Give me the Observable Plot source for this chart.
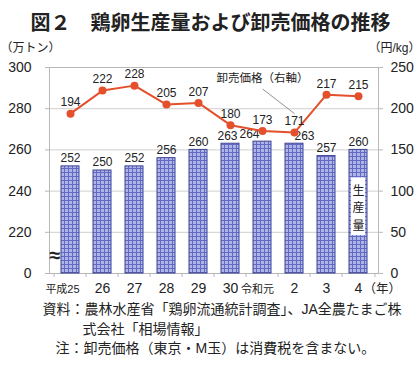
<!DOCTYPE html>
<html>
<head>
<meta charset="utf-8">
<script src="https://cdn.jsdelivr.net/npm/d3@7"></script>
<script src="https://cdn.jsdelivr.net/npm/@observablehq/plot@0.6"></script>
<style>
  html, body { margin: 0; padding: 0; background: #fff; }
  svg { display: block; }
</style>
</head>
<body>
<div id="chart"></div>
<script>
const years = ["平成25", "26", "27", "28", "29", "30", "令和元", "2", "3", "4"];
const production = [252, 250, 252, 256, 260, 263, 264, 263, 257, 260]; // 万トン (left axis)
const price = [194, 222, 228, 205, 207, 180, 173, 171, 217, 215];      // 円/kg (right axis)
const rightTicks = [0, 50, 100, 150, 200, 250];
const leftTickLabels = [0, 220, 240, 260, 280, 300];

const title = "図２　鶏卵生産量および卸売価格の推移";
const leftUnit = "（万トン）";
const rightUnit = "（円/kg）";
const yearUnit = "（年）";
const lineLabel = "卸売価格（右軸）";
const barLabel = "生\n産\n量";
const notes = [
  "資料：農林水産省「鶏卵流通統計調査」、JA全農たまご株",
  "式会社「相場情報」",
  "注：卸売価格（東京・M玉）は消費税を含まない。"
];

// broken left axis: 0 at bottom, 220..300 mapped linearly onto right-axis 50..250
const toRight = v => v === 0 ? 0 : (v - 200) * 2.5;

const data = years.map((year, i) => ({ year, prod: production[i], price: price[i] }));
const step = 32.9;

const font = "'Liberation Sans', 'Noto Sans CJK JP', sans-serif";
const ink = "#222";

const chart = Plot.plot({
  width: 420,
  height: 365,
  marginLeft: 49,
  marginRight: 42,
  marginTop: 67,
  marginBottom: 92,
  style: { fontFamily: font, fontSize: "12px", color: ink, background: "white", overflow: "visible" },
  x: { domain: years, paddingInner: 0.45, paddingOuter: 0.225, axis: null, label: null },
  y: { domain: [0, 250], axis: null, label: null },
  marks: [
    Plot.ruleY(rightTicks, { stroke: "#cfcfcf" }),
    Plot.frame({ stroke: "#b8b8b8" }),
    Plot.axisY({ anchor: "left", ticks: rightTicks, tickFormat: d => String(leftTickLabels[rightTicks.indexOf(d)]),
      tickSize: 4, tickPadding: 14, fontSize: 14, stroke: "#b8b8b8", fill: ink, label: null }),
    Plot.axisY({ anchor: "right", ticks: rightTicks, tickSize: 4, tickPadding: 8, fontSize: 14, stroke: "#b8b8b8", fill: ink, label: null }),
    Plot.ruleX(years, { x: d => d, dx: -step / 2, y1: 0, y2: 0, insetBottom: -4, stroke: "#b8b8b8" }),
    Plot.ruleX([years[years.length - 1]], { x: d => d, dx: step / 2, y1: 0, y2: 0, insetBottom: -4, stroke: "#b8b8b8" }),
    Plot.barY(data, { x: "year", y: d => toRight(d.prod), fill: "url(#eggGrid)", stroke: "#3c4290", strokeWidth: 1 }),
    Plot.text(data.filter(d => d.year !== "令和元" && d.year !== "2" && d.year !== "30"), { x: "year", y: d => toRight(d.prod), text: d => String(d.prod), dy: -8, fontSize: 12, fill: ink }),
    Plot.text(data.filter(d => d.year === "30"), { x: "year", y: d => toRight(d.prod), text: d => String(d.prod), dy: -8, dx: -3, fontSize: 12, fill: ink }),
    Plot.text(data.filter(d => d.year === "令和元"), { x: "year", y: d => toRight(d.prod), text: d => String(d.prod), dy: -8, dx: -13, fontSize: 12, fill: ink }),
    Plot.text(data.filter(d => d.year === "2"), { x: "year", y: d => toRight(d.prod), text: d => String(d.prod), dy: -8, dx: 10, fontSize: 12, fill: ink }),
    // white label box in the last bar
    Plot.barY([years[years.length - 1]], { x: d => d, y1: 46, y2: 116, fill: "white", insetLeft: 2, insetRight: 2 }),
    Plot.text([barLabel], { x: () => years[years.length - 1], y: () => 81, text: d => d, fontSize: 12, lineHeight: 1.45, fill: ink }),
    // price line
    Plot.link([{ a: "令和元", b: "2" }], { x1: "a", y1: () => 224, x2: "b", y2: () => 194, stroke: "#777", strokeWidth: 0.8 }),
    Plot.line(data, { x: "year", y: "price", stroke: "#e3502b", strokeWidth: 2 }),
    Plot.dot(data, { x: "year", y: "price", r: 4, fill: "#e3502b" }),
    Plot.text(data, { x: "year", y: "price", text: d => String(d.price), dy: -11, fontSize: 12, fill: ink }),
    Plot.text([lineLabel], { x: () => "令和元", y: () => 237, text: d => d, fontSize: 11.5, fill: ink, stroke: "white", strokeWidth: 3 }),
    // axis break mark
    Plot.text(["≈"], { frameAnchor: "left", y: () => 22, text: d => d, fontSize: 20, fontWeight: "bold", fill: ink }),
    // x labels
    Plot.text(years.filter(y => y !== "平成25" && y !== "令和元"), { x: d => d, frameAnchor: "bottom", dy: 19, text: d => d, fontSize: 14, fill: ink }),
    Plot.text(["平成25"], { x: d => d, frameAnchor: "bottom", dy: 19, dx: -8, text: d => d, fontSize: 11, fill: ink }),
    Plot.text(["令和元"], { x: d => d, frameAnchor: "bottom", dy: 19, dx: -5, text: d => d, fontSize: 11, fill: ink }),
    Plot.text([yearUnit], { x: () => years[years.length - 1], frameAnchor: "bottom", dy: 19, dx: 5, textAnchor: "start", text: d => d, fontSize: 12.5, fill: ink }),
    // title, units, notes
    Plot.text([title], { frameAnchor: "top", dy: -52, dx: -3.5, text: d => d, fontSize: 20, fontWeight: "bold", fill: ink }),
    Plot.text([leftUnit], { frameAnchor: "top-left", dy: -24, dx: -49, textAnchor: "start", text: d => d, fontSize: 12, fill: ink }),
    Plot.text([rightUnit], { frameAnchor: "top-right", dy: -24, dx: 42, textAnchor: "end", text: d => d, fontSize: 12, fill: ink }),
    Plot.text([notes[0]], { frameAnchor: "bottom-left", dy: 40, dx: -7, textAnchor: "start", text: d => d, fontSize: 14, fill: ink }),
    Plot.text([notes[1]], { frameAnchor: "bottom-left", dy: 60, dx: 33, textAnchor: "start", text: d => d, fontSize: 14, fill: ink }),
    Plot.text([notes[2]], { frameAnchor: "bottom-left", dy: 79, dx: 6, textAnchor: "start", text: d => d, fontSize: 14, fill: ink })
  ]
});

// grid pattern for the bars
const defs = d3.select(chart).insert("defs", ":first-child");
const pat = defs.append("pattern").attr("id", "eggGrid").attr("patternUnits", "userSpaceOnUse")
  .attr("width", 4).attr("height", 4);
pat.append("rect").attr("width", 4).attr("height", 4).attr("fill", "#aeb3e8");
pat.append("rect").attr("x", 0).attr("y", 0).attr("width", 4).attr("height", 1).attr("fill", "#626ac4");
pat.append("rect").attr("x", 0).attr("y", 0).attr("width", 1).attr("height", 4).attr("fill", "#626ac4");

document.getElementById("chart").appendChild(chart);
</script>
</body>
</html>
